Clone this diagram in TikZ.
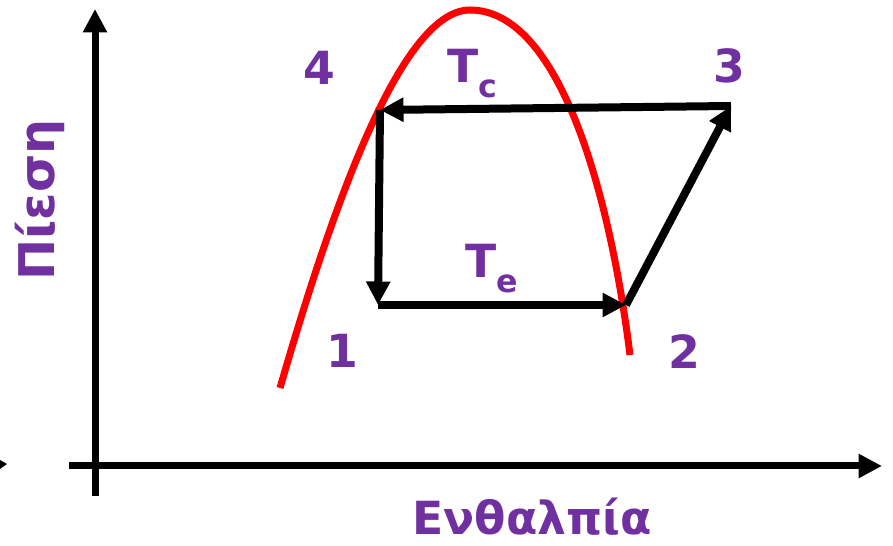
\documentclass[tikz,border=0pt]{standalone}
\usepackage{fontspec}
\newfontfamily\lblfont{DejaVu Sans}
\usetikzlibrary{shapes,arrows.meta,positioning}
\definecolor{labelpurple}{RGB}{112,48,160}
\definecolor{domered}{RGB}{255,0,0}

\begin{document}
\begin{tikzpicture}[
    x=0.02cm, y=-0.02cm,
    >={Triangle[length=0.47cm,width=0.46cm]},
    every node/.style={align=center}
]

% Define styles
\tikzstyle{axis} = [draw, line width=0.14cm, ->]
\tikzstyle{line} = [draw, line width=0.16cm, ->]
\tikzstyle{dome} = [draw=domered, line width=0.14cm]
\tikzstyle{statelabel} = [text=labelpurple, inner sep=0pt,
    font=\lblfont\bfseries\fontsize{26}{26}\selectfont]
\newcommand{\sublbl}[1]{\raisebox{-8pt}{\fontsize{18}{18}\selectfont #1}}

\useasboundingbox (0,0) rectangle (893,546);

% Axes
\coordinate (ybot) at (95,496);
\coordinate (ytop) at (95,9);
\coordinate (xleft) at (69,466);
\coordinate (xright) at (882,466);
\path [axis] (ybot) -- (ytop);
\path [axis] (xleft) -- (xright);
\fill (0,460) -- (7,464) -- (0,469) -- cycle;

% Saturation dome
\coordinate (liq) at (280,388);
\coordinate (crit) at (470,10);
\coordinate (vap) at (630,355);
\draw [dome] (liq) .. controls (330,215) and (400,10) .. (crit)
    .. controls (560,10) and (610,195) .. (vap);

% Cycle points
\coordinate (s1) at (378,305);
\coordinate (s2) at (626,305);
\coordinate (s3) at (731,106);
\coordinate (s4) at (380,110);

% Paths
\path [line] (s3) -- (s4);
\path [line] (s4) -- (s1);
\path [line] (s1) -- (s2);
\path [line] (s2) -- (s3);

% Labels
\node [statelabel] (n1) at (342,351) {1};
\node [statelabel] (n2) at (684,352) {2};
\node [statelabel] (n3) at (729,66) {3};
\node [statelabel] (n4) at (319,68) {4};
\node [statelabel, anchor=base west] (tc) at (447,83) {T\sublbl{c}};
\node [statelabel, anchor=base west] (te) at (465,278) {T\sublbl{e}};
\node [statelabel, rotate=90, font=\lblfont\bfseries\fontsize{28}{28}\selectfont] (pres) at (40,200) {Πίεση};
\node [statelabel] (enth) at (532,517) {Ενθαλπία};

\end{tikzpicture}
\end{document}
